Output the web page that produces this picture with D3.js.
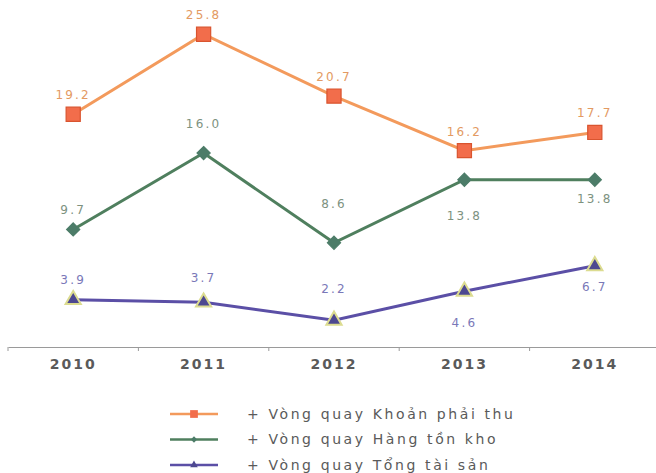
<!DOCTYPE html>
<html>
<head>
<meta charset="utf-8">
<script src="https://cdn.jsdelivr.net/npm/d3@7"></script>
<style>
  body { margin: 0; background: #fff; }
  svg { display: block; font-family: "DejaVu Sans", Verdana, sans-serif; }
</style>
</head>
<body>
<svg width="656" height="473"></svg>
<script>
// chart values
const years = ['2010', '2011', '2012', '2013', '2014'];
const receivables = [19.2, 25.8, 20.7, 16.2, 17.7];
const inventory = [9.7, 16.0, 8.6, 13.8, 13.8];
const totalAssets = [3.9, 3.7, 2.2, 4.6, 6.7];
const seriesNames = ['+ Vòng quay Khoản phải thu', '+ Vòng quay Hàng tồn kho', '+ Vòng quay Tổng tài sản'];

const svg = d3.select('svg');

const x = d3.scaleBand().domain(years).range([8, 660]);
const y = d3.scaleLinear().domain([0, 28]).range([347, 7.6]);

// label offsets (px) relative to each marker
const series = [
  {name: seriesNames[0], values: receivables, line: '#f39a5c', fill: '#f26d4b', stroke: '#d9542f', label: '#e39a62', shape: 'square', size: 200,
   dy: [-15, -15, -15, -15, -15]},
  {name: seriesNames[1], values: inventory, line: '#4f7f5e', fill: '#4c7c68', stroke: '#4c7c68', label: '#7d927f', shape: 'diamond', size: 110,
   dy: [-15, -25, -35, 40, 23]},
  {name: seriesNames[2], values: totalAssets, line: '#5b4fa6', fill: '#4d4890', stroke: '#dcdc90', label: '#7a78b8', shape: 'triangle', size: 100,
   dy: [-16, -20, -27, 36, 25]}
];

// x axis
const axis = svg.append('g')
  .attr('transform', 'translate(0,' + y(0) + ')')
  .call(d3.axisBottom(x).tickSize(0).tickPadding(12));
axis.select('.domain').attr('stroke', '#9a9a9a').attr('stroke-width', 1.2);
axis.selectAll('text')
  .attr('font-family', '"DejaVu Sans", Verdana, sans-serif')
  .attr('font-size', 14)
  .attr('font-weight', 'bold')
  .attr('letter-spacing', 2)
  .attr('fill', '#5a5a5a');
// little ticks on the band edges
axis.selectAll('.edge')
  .data(years)
  .enter().append('line')
  .attr('class', 'edge')
  .attr('x1', d => x(d)).attr('x2', d => x(d))
  .attr('y1', 0).attr('y2', 4)
  .attr('stroke', '#9a9a9a');

const cx = d => x(d) + x.bandwidth() / 2;

function symbolPath(shape, size) {
  const t = shape === 'square' ? d3.symbolSquare : shape === 'diamond' ? d3.symbolDiamond2 : d3.symbolTriangle;
  return d3.symbol().type(t).size(size)();
}

const line = d3.line()
  .x(d => cx(d.year))
  .y(d => y(d.value));

series.forEach(s => {
  const pts = years.map((yr, i) => ({year: yr, value: s.values[i], dy: s.dy[i]}));
  const g = svg.append('g');
  g.append('path')
    .datum(pts)
    .attr('d', line)
    .attr('fill', 'none')
    .attr('stroke', s.line)
    .attr('stroke-width', 3);
  g.selectAll('.mark')
    .data(pts)
    .enter().append('path')
    .attr('class', 'mark')
    .attr('transform', d => 'translate(' + cx(d.year) + ',' + y(d.value) + ')')
    .attr('d', symbolPath(s.shape, s.size))
    .attr('fill', s.fill)
    .attr('stroke', s.stroke)
    .attr('stroke-width', s.shape === 'triangle' ? 2 : 1.2);
  g.selectAll('.lbl')
    .data(pts)
    .enter().append('text')
    .attr('class', 'lbl')
    .attr('x', d => cx(d.year))
    .attr('y', d => y(d.value) + d.dy)
    .attr('text-anchor', 'middle')
    .attr('font-size', 12)
    .attr('letter-spacing', 2.2)
    .attr('fill', s.label)
    .text(d => d.value.toFixed(1));
});

// legend
const legend = svg.append('g').attr('transform', 'translate(170,414)');
const row = legend.selectAll('g')
  .data(series)
  .enter().append('g')
  .attr('transform', (d, i) => 'translate(0,' + i * 25.5 + ')');
row.append('line')
  .attr('x1', 0).attr('x2', 48)
  .attr('stroke', d => d.line)
  .attr('stroke-width', 2.5);
row.append('path')
  .attr('transform', 'translate(24,0)')
  .attr('d', d => symbolPath(d.shape, d.shape === 'square' ? 60 : 25))
  .attr('fill', d => d.fill);
row.append('text')
  .attr('x', 77)
  .attr('dy', '0.35em')
  .attr('font-size', 14)
  .attr('letter-spacing', 2.6)
  .attr('fill', '#5a5a5a')
  .text(d => d.name);
</script>
</body>
</html>
